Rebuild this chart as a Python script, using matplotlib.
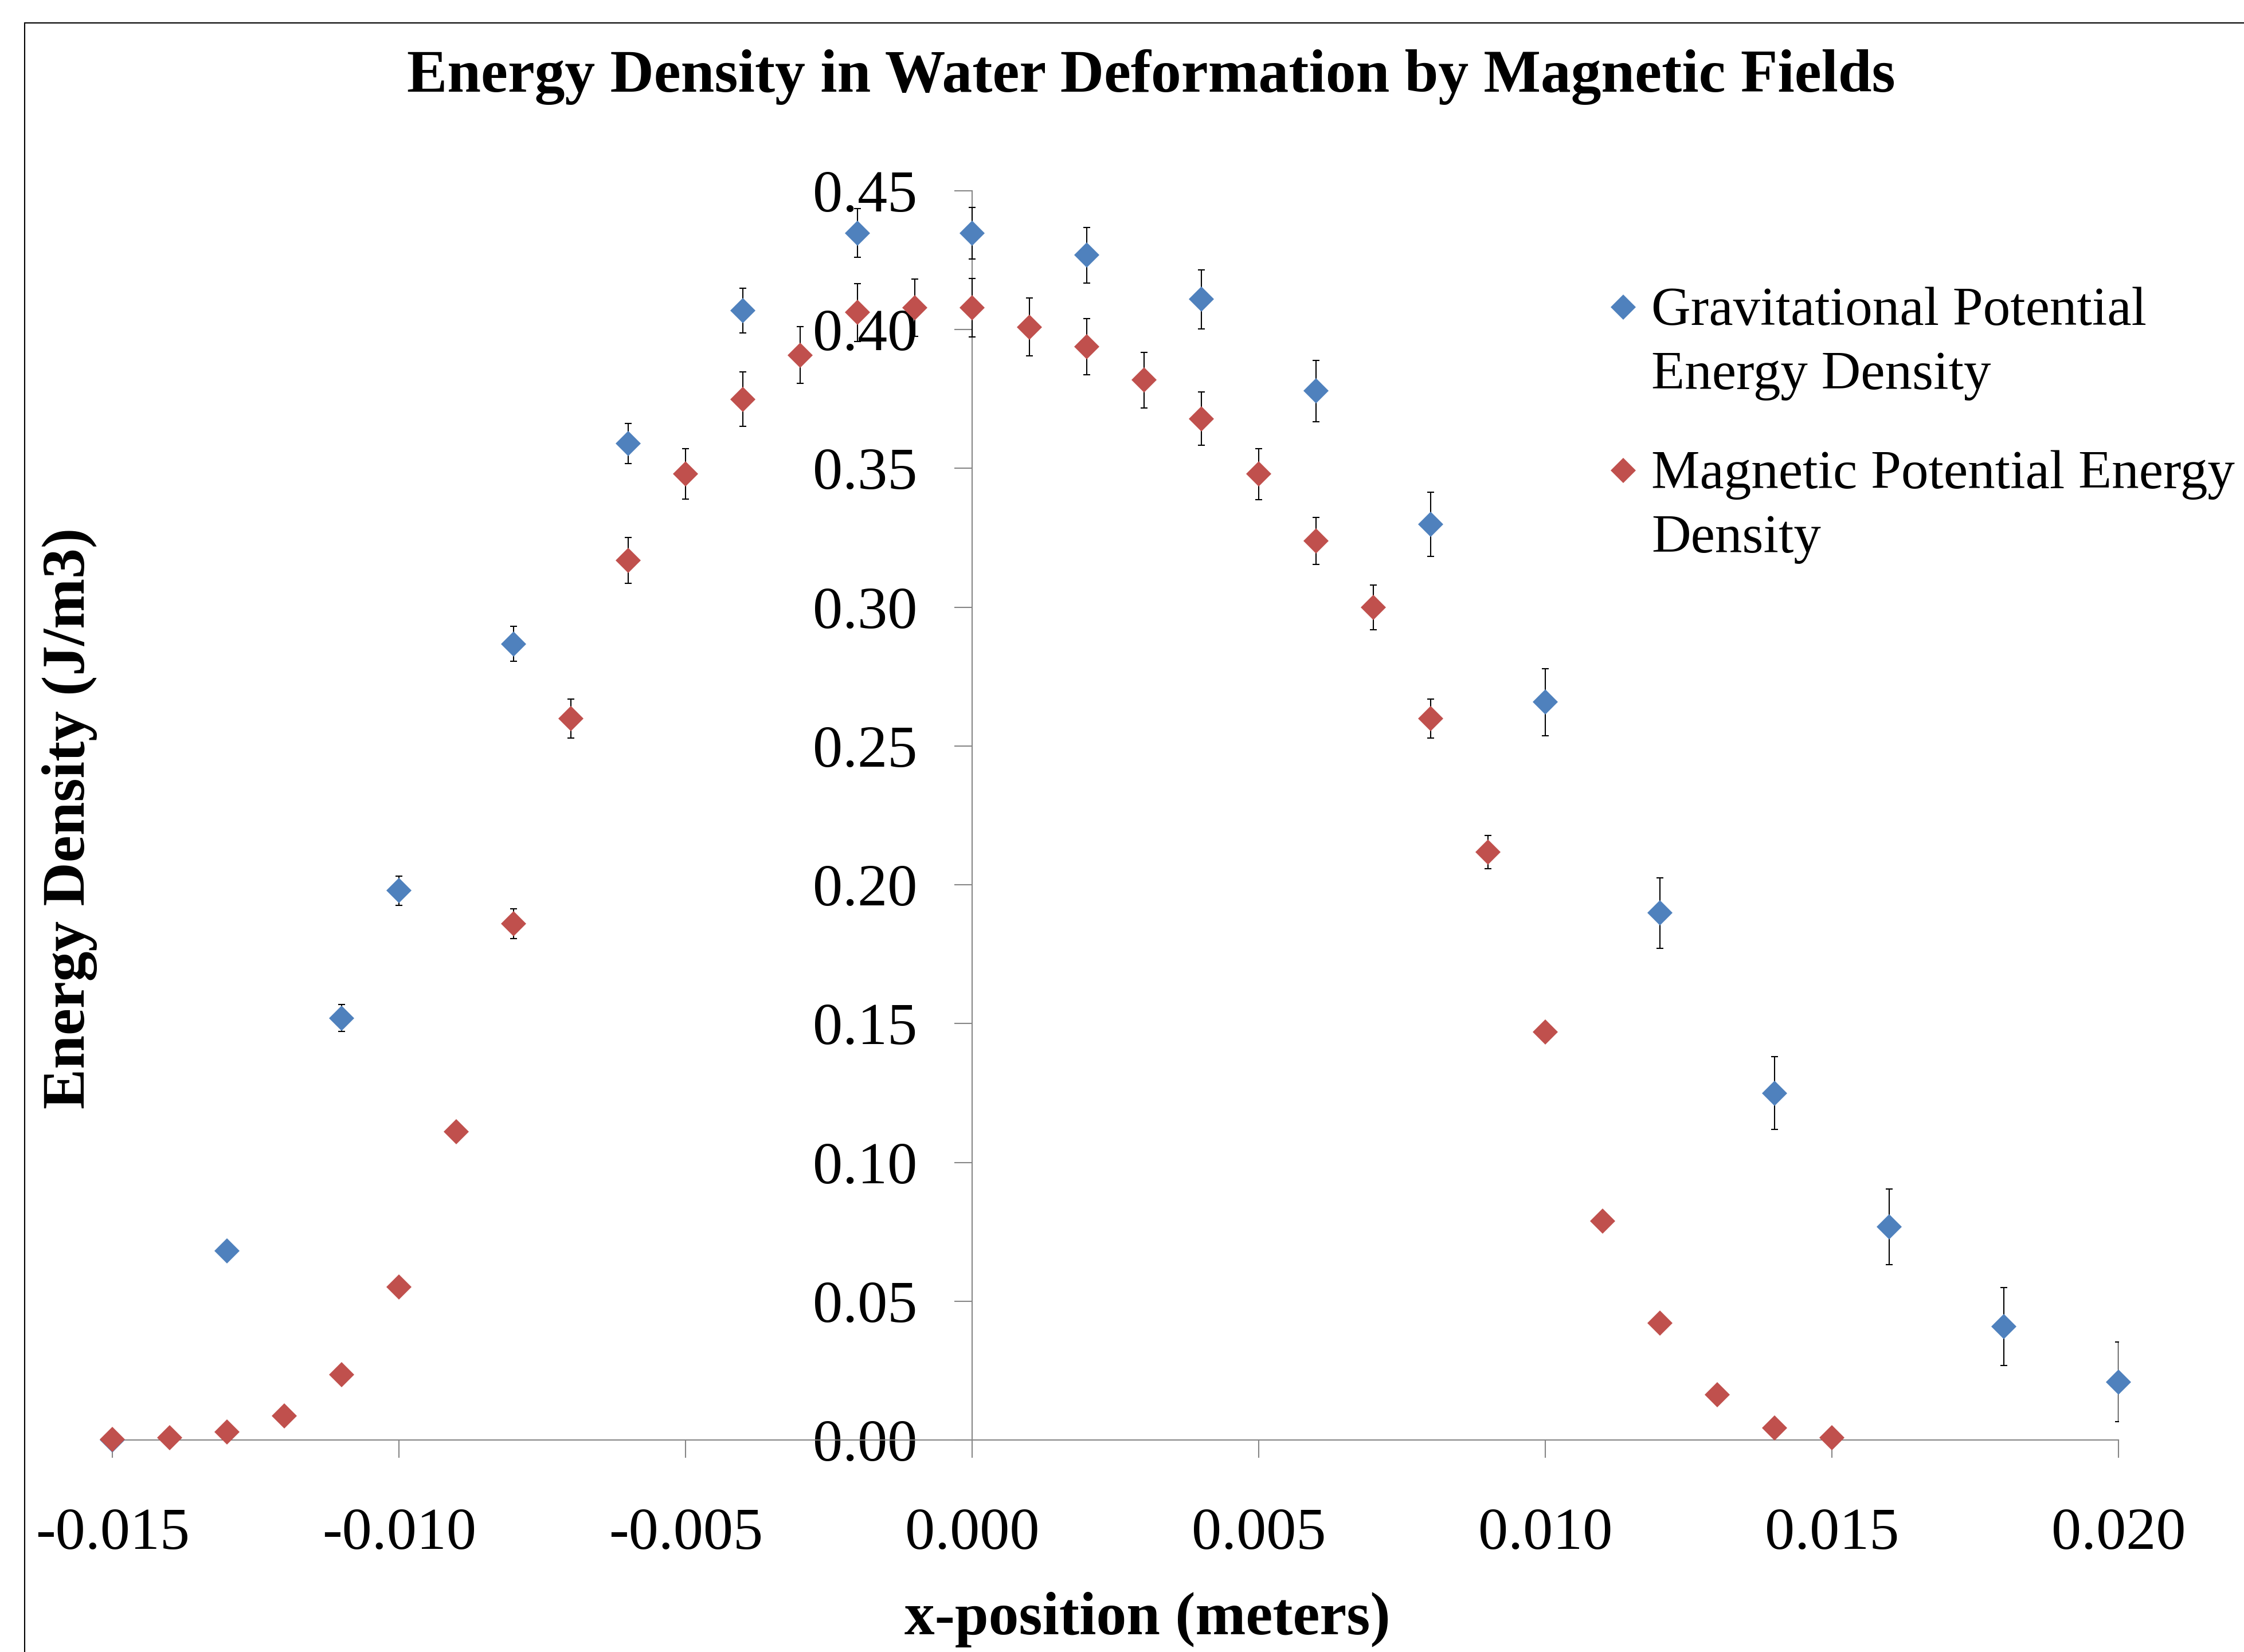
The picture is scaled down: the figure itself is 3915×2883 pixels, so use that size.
import numpy as np
import matplotlib
matplotlib.use("Agg")
import matplotlib.pyplot as plt
from matplotlib.lines import Line2D
from matplotlib.patches import Rectangle
from matplotlib.ticker import FormatStrFormatter, MultipleLocator

plt.rcParams['font.family'] = ['Liberation Serif', 'DejaVu Serif']
plt.rcParams['axes.unicode_minus'] = False

# gravitational potential energy density (blue)
x_grav = [-0.015, -0.013, -0.011, -0.010, -0.008, -0.006, -0.004, -0.002, 0.000,
          0.002, 0.004, 0.006, 0.008, 0.010, 0.012, 0.014, 0.016, 0.018, 0.020]
grav = [0.0000, 0.0682, 0.1520, 0.1979, 0.2868, 0.3590, 0.4069, 0.4348, 0.4348,
        0.4268, 0.4109, 0.3779, 0.3298, 0.2658, 0.1899, 0.1249, 0.0768, 0.0409, 0.0209]
grav_err = [0.0, 0.0, 0.0049, 0.0053, 0.0063, 0.0072, 0.0080, 0.0087, 0.0093,
            0.0100, 0.0106, 0.0111, 0.0116, 0.0121, 0.0127, 0.0131, 0.0136, 0.0140, 0.0143]

# magnetic potential energy density (red)
x_mag = [-0.015, -0.014, -0.013, -0.012, -0.011, -0.010, -0.009, -0.008, -0.007, -0.006,
         -0.005, -0.004, -0.003, -0.002, -0.001, 0.000, 0.001, 0.002, 0.003, 0.004,
         0.005, 0.006, 0.007, 0.008, 0.009, 0.010, 0.011, 0.012, 0.013, 0.014, 0.015]
mag = [0.0003, 0.0008, 0.0028, 0.0087, 0.0235, 0.0551, 0.1110, 0.1860, 0.2599, 0.3169,
       0.3480, 0.3749, 0.3908, 0.4062, 0.4079, 0.4079, 0.4009, 0.3938, 0.3818, 0.3679,
       0.3480, 0.3239, 0.2999, 0.2599, 0.2118, 0.1470, 0.0789, 0.0422, 0.0163, 0.0044, 0.0008]
mag_err = [0.0, 0.0, 0.0, 0.0, 0.0, 0.0, 0.0, 0.0053, 0.0070, 0.0083,
           0.0091, 0.0098, 0.0102, 0.0104, 0.0104, 0.0105, 0.0104, 0.0101, 0.0100, 0.0096,
           0.0092, 0.0085, 0.0080, 0.0071, 0.0059, 0.0028, 0.0, 0.0, 0.0, 0.0, 0.0]

labels = ["Gravitational Potential\nEnergy Density",
          "Magnetic Potential Energy\nDensity"]
colors = ['#4F81BD', '#C0504D']

W, H = 3916, 2883
fig = plt.figure(figsize=(W / 100, H / 100), dpi=100)
ax = fig.add_axes([196.4 / W, 1 - 2513 / H, 3500 / W, 2180 / H])

ms = 22.4
series = [(x_grav, grav, grav_err), (x_mag, mag, mag_err)]
for i, (xs, ys, es) in enumerate(series):
    xs = np.array(xs)
    ys = np.array(ys)
    es = np.array(es)
    m = es > 0
    ax.errorbar(xs[m], ys[m], yerr=es[m], fmt='none', ecolor='black',
                elinewidth=1.5, capsize=4.2, capthick=1.5, zorder=3 + 2 * i)
    ax.plot(xs, ys, linestyle='none', marker='D', markersize=ms,
            markerfacecolor=colors[i], markeredgewidth=0, clip_on=False,
            zorder=4 + 2 * i)

ax.set_xlim(-0.015, 0.020)
ax.set_ylim(0, 0.45)
ax.xaxis.set_major_locator(MultipleLocator(0.005))
ax.yaxis.set_major_locator(MultipleLocator(0.05))
ax.xaxis.set_major_formatter(FormatStrFormatter('%.3f'))
ax.yaxis.set_major_formatter(FormatStrFormatter('%.2f'))

ax.spines['top'].set_visible(False)
ax.spines['right'].set_visible(False)
ax.spines['left'].set_position(('data', 0))
for s in ['left', 'bottom']:
    ax.spines[s].set_color('#868686')
    ax.spines[s].set_linewidth(1.5)
ax.tick_params(axis='both', direction='out', length=22, width=1.5,
               color='#868686', labelsize=75, labelcolor='black')
ax.tick_params(axis='x', pad=63)
ax.tick_params(axis='y', pad=47)
ax.patch.set_alpha(0)

fig.text(2008 / W, 1 - 160 / H,
         "Energy Density in Water Deformation by Magnetic Fields",
         ha='center', va='baseline', fontsize=76, fontweight='bold')
fig.text(2002 / W, 1 - 2852 / H, "x-position (meters)",
         ha='center', va='baseline', fontsize=76, fontweight='bold')
fig.text(147 / W, 1 - 1428 / H, "Energy Density (J/m3)", rotation=90,
         rotation_mode='anchor', ha='center', va='baseline',
         fontsize=76, fontweight='bold')

# legend drawn by hand so the marker sits on the first line
# (multiline text with va='baseline' anchors on the last line)
leg_marker_y = [536, 821]
leg_last_line_y = [679, 964]
for i in range(2):
    fig.add_artist(Line2D([2832 / W], [1 - leg_marker_y[i] / H], linestyle='none',
                          marker='D', markersize=ms, markerfacecolor=colors[i],
                          markeredgewidth=0, transform=fig.transFigure))
    fig.text(2881 / W, 1 - leg_last_line_y[i] / H, labels[i], ha='left',
             va='baseline', fontsize=68.5, linespacing=1.38)

# chart area border
fig.add_artist(Rectangle((43 / W, -0.5), 2, 0.5 + 1 - 40 / H, fill=False,
                         edgecolor='black', linewidth=1.5,
                         transform=fig.transFigure))

fig.savefig('out.png', dpi=100)
